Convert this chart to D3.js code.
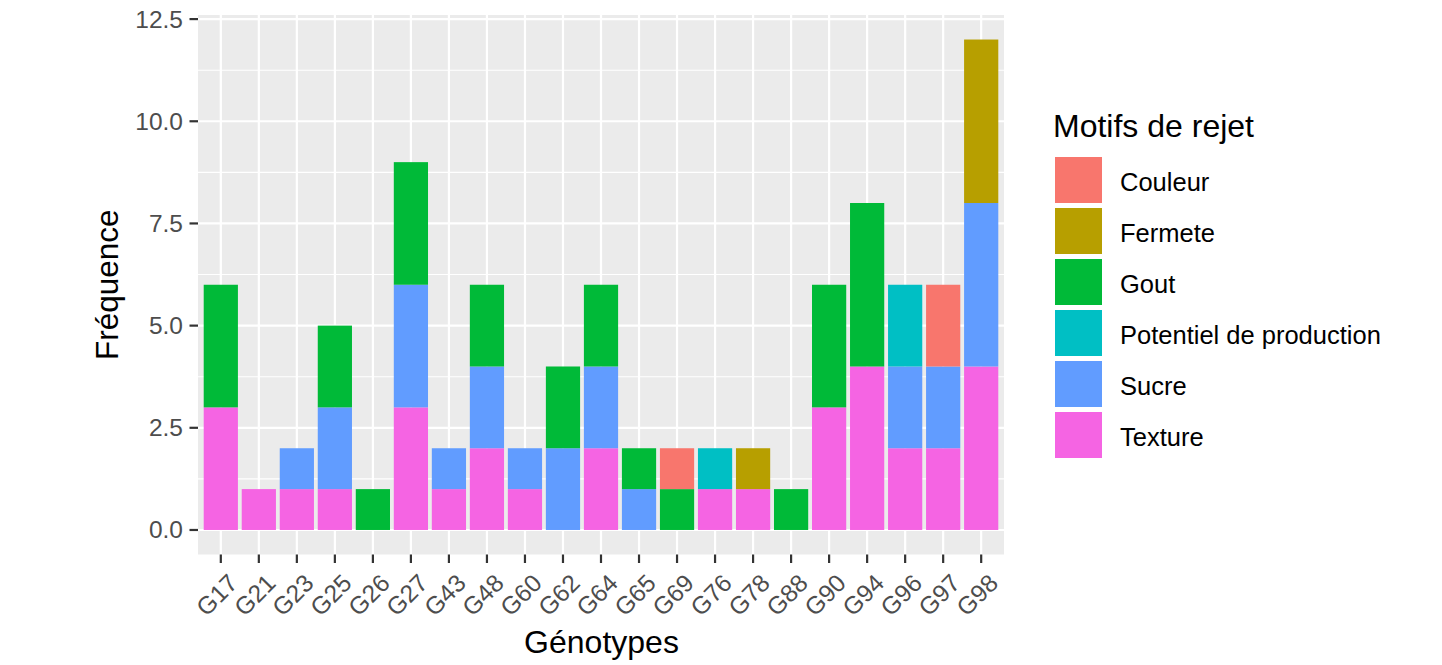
<!DOCTYPE html>
<html>
<head>
<meta charset="utf-8">
<script src="https://cdn.jsdelivr.net/npm/d3@7/dist/d3.min.js"></script>
<style>
  html, body { margin: 0; padding: 0; background: #fff; }
  svg { display: block; font-family: "Liberation Sans", Arial, sans-serif; }
</style>
</head>
<body>
<svg id="chart" width="1442" height="665"></svg>
<script>
// ---- Data ----
const genotypes = ["G17","G21","G23","G25","G26","G27","G43","G48","G60","G62","G64","G65","G69","G76","G78","G88","G90","G94","G96","G97","G98"];
const motifs = ["Couleur","Fermete","Gout","Potentiel de production","Sucre","Texture"];
const colors = ["#F8766D","#B79F00","#00BA38","#00BFC4","#619CFF","#F564E3"];
const couleur   = [0,0,0,0,0,0,0,0,0,0,0,0,1,0,0,0,0,0,0,2,0];
const fermete   = [0,0,0,0,0,0,0,0,0,0,0,0,0,0,1,0,0,0,0,0,4];
const gout      = [3,0,0,2,1,3,0,2,0,2,2,1,1,0,0,1,3,4,0,0,0];
const potentiel = [0,0,0,0,0,0,0,0,0,0,0,0,0,1,0,0,0,0,2,0,0];
const sucre     = [0,0,1,2,0,3,1,2,1,2,2,1,0,0,0,0,0,0,2,2,4];
const texture   = [3,1,1,1,0,3,1,2,1,0,2,0,0,1,1,0,3,4,2,2,4];
const yTicks = [0, 2.5, 5, 7.5, 10, 12.5];
const yMinor = [1.25, 3.75, 6.25, 8.75, 11.25];

const seriesValues = [couleur, fermete, gout, potentiel, sucre, texture];

// ---- Layout ----
const panel = { left: 198, right: 1004, top: 15, bottom: 554.5 };
const svg = d3.select("#chart");

// ggplot-like discrete axis: expansion of 0.6 slot on each side
const x = d3.scalePoint().domain(genotypes)
  .range([panel.left, panel.right]).padding(0.6);
const barW = x.step() * 0.9;

const y = d3.scaleLinear().domain([-0.6, 12.6]).range([panel.bottom, panel.top]);

const table = genotypes.map((g, i) => {
  const row = { g };
  motifs.forEach((m, j) => row[m] = seriesValues[j][i]);
  return row;
});
// ggplot stacks first factor level on top -> stack in reversed order
const stack = d3.stack().keys(motifs.slice().reverse());
const stacked = stack(table);
const color = d3.scaleOrdinal().domain(motifs).range(colors);

// panel background
svg.append("rect").attr("x", panel.left).attr("y", panel.top)
  .attr("width", panel.right - panel.left).attr("height", panel.bottom - panel.top)
  .attr("fill", "#EBEBEB");

// minor grid
svg.append("g").selectAll("line").data(yMinor).join("line")
  .attr("x1", panel.left).attr("x2", panel.right)
  .attr("y1", d => y(d)).attr("y2", d => y(d))
  .attr("stroke", "#fff").attr("stroke-width", 1.1);
// major grid
svg.append("g").selectAll("line").data(yTicks).join("line")
  .attr("x1", panel.left).attr("x2", panel.right)
  .attr("y1", d => y(d)).attr("y2", d => y(d))
  .attr("stroke", "#fff").attr("stroke-width", 2.2);
svg.append("g").selectAll("line").data(genotypes).join("line")
  .attr("x1", d => x(d)).attr("x2", d => x(d))
  .attr("y1", panel.top).attr("y2", panel.bottom)
  .attr("stroke", "#fff").attr("stroke-width", 2.2);

// bars
svg.append("g").selectAll("g").data(stacked).join("g")
  .attr("fill", d => color(d.key))
  .selectAll("rect").data(d => d.filter(s => s[1] - s[0] > 0)).join("rect")
  .attr("x", d => x(d.data.g) - barW / 2)
  .attr("width", barW)
  .attr("y", d => y(d[1]))
  .attr("height", d => y(d[0]) - y(d[1]));

// y axis
const yAxis = svg.append("g");
yAxis.selectAll("line").data(yTicks).join("line")
  .attr("x1", panel.left - 8.5).attr("x2", panel.left)
  .attr("y1", d => y(d)).attr("y2", d => y(d))
  .attr("stroke", "#333").attr("stroke-width", 2.2);
yAxis.selectAll("text").data(yTicks).join("text")
  .attr("x", panel.left - 15).attr("y", d => y(d))
  .attr("text-anchor", "end").attr("dominant-baseline", "central")
  .attr("font-size", 24.5).attr("fill", "#4D4D4D")
  .text(d => d3.format(".1f")(d));

// x axis
const xAxis = svg.append("g");
xAxis.selectAll("line").data(genotypes).join("line")
  .attr("x1", d => x(d)).attr("x2", d => x(d))
  .attr("y1", panel.bottom).attr("y2", panel.bottom + 8.5)
  .attr("stroke", "#333").attr("stroke-width", 2.2);
xAxis.selectAll("text").data(genotypes).join("text")
  .attr("transform", d => `translate(${x(d) - 4},${595}) rotate(-45)`)
  .attr("text-anchor", "middle").attr("dominant-baseline", "central")
  .attr("font-size", 24.5).attr("fill", "#4D4D4D")
  .text(d => d);

// axis titles
svg.append("text").attr("x", (panel.left + panel.right) / 2 + 0.5).attr("y", 653)
  .attr("text-anchor", "middle").attr("font-size", 32).attr("fill", "#000")
  .text("Génotypes");
svg.append("text").attr("transform", `translate(118,${(panel.top + panel.bottom) / 2}) rotate(-90)`)
  .attr("text-anchor", "middle").attr("font-size", 31.5).attr("fill", "#000")
  .text("Fréquence");

// legend
const lg = svg.append("g");
lg.append("text").attr("x", 1053).attr("y", 137).attr("font-size", 32).attr("fill", "#000")
  .text("Motifs de rejet");
const items = lg.selectAll("g.item").data(motifs).join("g").attr("class", "item")
  .attr("transform", (d, i) => `translate(1055,${157 + i * 51})`);
items.append("rect").attr("width", 47).attr("height", 46).attr("fill", d => color(d));
items.append("text").attr("x", 65).attr("y", 25).attr("dominant-baseline", "central")
  .attr("font-size", 25.5).attr("fill", "#000").text(d => d);
</script>
</body>
</html>
